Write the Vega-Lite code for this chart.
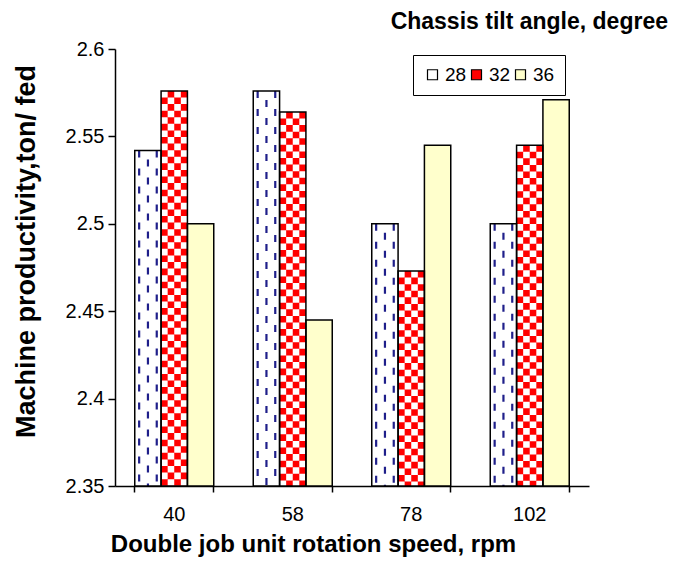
{
  "$schema": "https://vega.github.io/schema/vega-lite/v6.json",
  "autosize": "none",
  "width": 474,
  "height": 437,
  "padding": {"left": 115, "top": 49, "right": 85, "bottom": 82},
  "background": "white",
  "title": {
    "text": "Chassis tilt angle, degree",
    "anchor": "end",
    "font": "Liberation Sans",
    "fontSize": 23,
    "fontWeight": "bold",
    "color": "black",
    "dx": 79,
    "offset": 5
  },
  "data": {
    "values": [
      {"speed": "40", "angle": "28", "value": 2.542},
      {"speed": "40", "angle": "32", "value": 2.576},
      {"speed": "40", "angle": "36", "value": 2.5},
      {"speed": "58", "angle": "28", "value": 2.576},
      {"speed": "58", "angle": "32", "value": 2.564},
      {"speed": "58", "angle": "36", "value": 2.445},
      {"speed": "78", "angle": "28", "value": 2.5},
      {"speed": "78", "angle": "32", "value": 2.473},
      {"speed": "78", "angle": "36", "value": 2.545},
      {"speed": "102", "angle": "28", "value": 2.5},
      {"speed": "102", "angle": "32", "value": 2.545},
      {"speed": "102", "angle": "36", "value": 2.571}
    ]
  },
  "encoding": {
    "x": {
      "field": "speed",
      "type": "nominal",
      "sort": ["40", "58", "78", "102"],
      "scale": {"paddingInner": 0.3333, "paddingOuter": 0.16667},
      "axis": {
        "title": "Double job unit rotation speed, rpm",
        "titleFont": "Liberation Sans",
        "titleFontSize": 24,
        "titleFontWeight": "bold",
        "titleColor": "black",
        "titlePadding": 8,
        "titleX": 198,
        "titleAlign": "center",
        "labelFont": "Liberation Sans",
        "labelFontSize": 20,
        "labelColor": "black",
        "labelAngle": 0,
        "labelPadding": 12,
        "bandPosition": 1,
        "tickExtra": true,
        "tickSize": 6,
        "tickWidth": 1.5,
        "tickColor": "black",
        "domainColor": "black",
        "domainWidth": 1.5,
        "grid": false
      }
    },
    "xOffset": {
      "field": "angle",
      "type": "nominal",
      "sort": ["28", "32", "36"],
      "scale": {"paddingInner": 0, "paddingOuter": 0}
    },
    "y": {
      "field": "value",
      "type": "quantitative",
      "scale": {"domain": [2.35, 2.6], "zero": false, "nice": false},
      "axis": {
        "title": "Machine productivity,ton/ fed",
        "titleFont": "Liberation Sans",
        "titleFontSize": 27,
        "titleFontWeight": "bold",
        "titleColor": "black",
        "titlePadding": 25,
        "titleY": 202,
        "titleAlign": "center",
        "labelFont": "Liberation Sans",
        "labelFontSize": 20,
        "labelColor": "black",
        "labelPadding": 4,
        "values": [2.35, 2.4, 2.45, 2.5, 2.55, 2.6],
        "format": ".3~g",
        "tickSize": 7,
        "tickWidth": 1.5,
        "tickColor": "black",
        "domainColor": "black",
        "domainWidth": 1.5,
        "grid": false
      }
    },
    "y2": {"datum": 2.35}
  },
  "layer": [
    {
      "mark": {"type": "bar"},
      "encoding": {
        "color": {
          "field": "angle",
          "type": "nominal",
          "sort": ["28", "32", "36"],
          "scale": {"domain": ["28", "32", "36"], "range": ["#ffffff", "#ff0000", "#ffffcc"]},
          "legend": {
            "title": null,
            "orient": "none",
            "legendX": 298,
            "legendY": 6,
            "direction": "horizontal",
            "strokeColor": "black",
            "padding": 10,
            "symbolType": "square",
            "symbolSize": 100,
            "symbolStrokeColor": "black",
            "symbolStrokeWidth": 1.2,
            "symbolOpacity": 1,
            "labelFont": "Liberation Sans",
            "labelFontSize": 19,
            "labelColor": "black",
            "labelOffset": 3,
            "columnPadding": 0
          }
        }
      }
    },
    {
      "transform": [{"filter": "datum.angle == '28'"}],
      "mark": {"type": "rule", "stroke": "#1f1f8a", "strokeWidth": 2.2, "strokeDash": [7, 11], "strokeDashOffset": 0},
      "encoding": {"xOffset": {"value": 4.4}}
    },
    {
      "transform": [{"filter": "datum.angle == '28'"}],
      "mark": {"type": "rule", "stroke": "#1f1f8a", "strokeWidth": 2.2, "strokeDash": [7, 11], "strokeDashOffset": 9},
      "encoding": {"xOffset": {"value": 13.2}}
    },
    {
      "transform": [{"filter": "datum.angle == '28'"}],
      "mark": {"type": "rule", "stroke": "#1f1f8a", "strokeWidth": 2.2, "strokeDash": [7, 11], "strokeDashOffset": 0},
      "encoding": {"xOffset": {"value": 22}}
    },
    {
      "transform": [{"filter": "datum.angle == '32'"}],
      "mark": {"type": "rule", "stroke": "white", "strokeWidth": 6.58, "strokeDash": [6.58, 6.58], "strokeDashOffset": 0},
      "encoding": {"xOffset": {"value": 29.62}}
    },
    {
      "transform": [{"filter": "datum.angle == '32'"}],
      "mark": {"type": "rule", "stroke": "white", "strokeWidth": 6.58, "strokeDash": [6.58, 6.58], "strokeDashOffset": 6.58},
      "encoding": {"xOffset": {"value": 36.2}}
    },
    {
      "transform": [{"filter": "datum.angle == '32'"}],
      "mark": {"type": "rule", "stroke": "white", "strokeWidth": 6.58, "strokeDash": [6.58, 6.58], "strokeDashOffset": 0},
      "encoding": {"xOffset": {"value": 42.78}}
    },
    {
      "transform": [{"filter": "datum.angle == '32'"}],
      "mark": {"type": "rule", "stroke": "white", "strokeWidth": 6.58, "strokeDash": [6.58, 6.58], "strokeDashOffset": 6.58},
      "encoding": {"xOffset": {"value": 49.36}}
    },
    {
      "mark": {"type": "bar", "fill": "transparent", "stroke": "black", "strokeWidth": 1.5}
    }
  ],
  "config": {"view": {"stroke": null}}
}
